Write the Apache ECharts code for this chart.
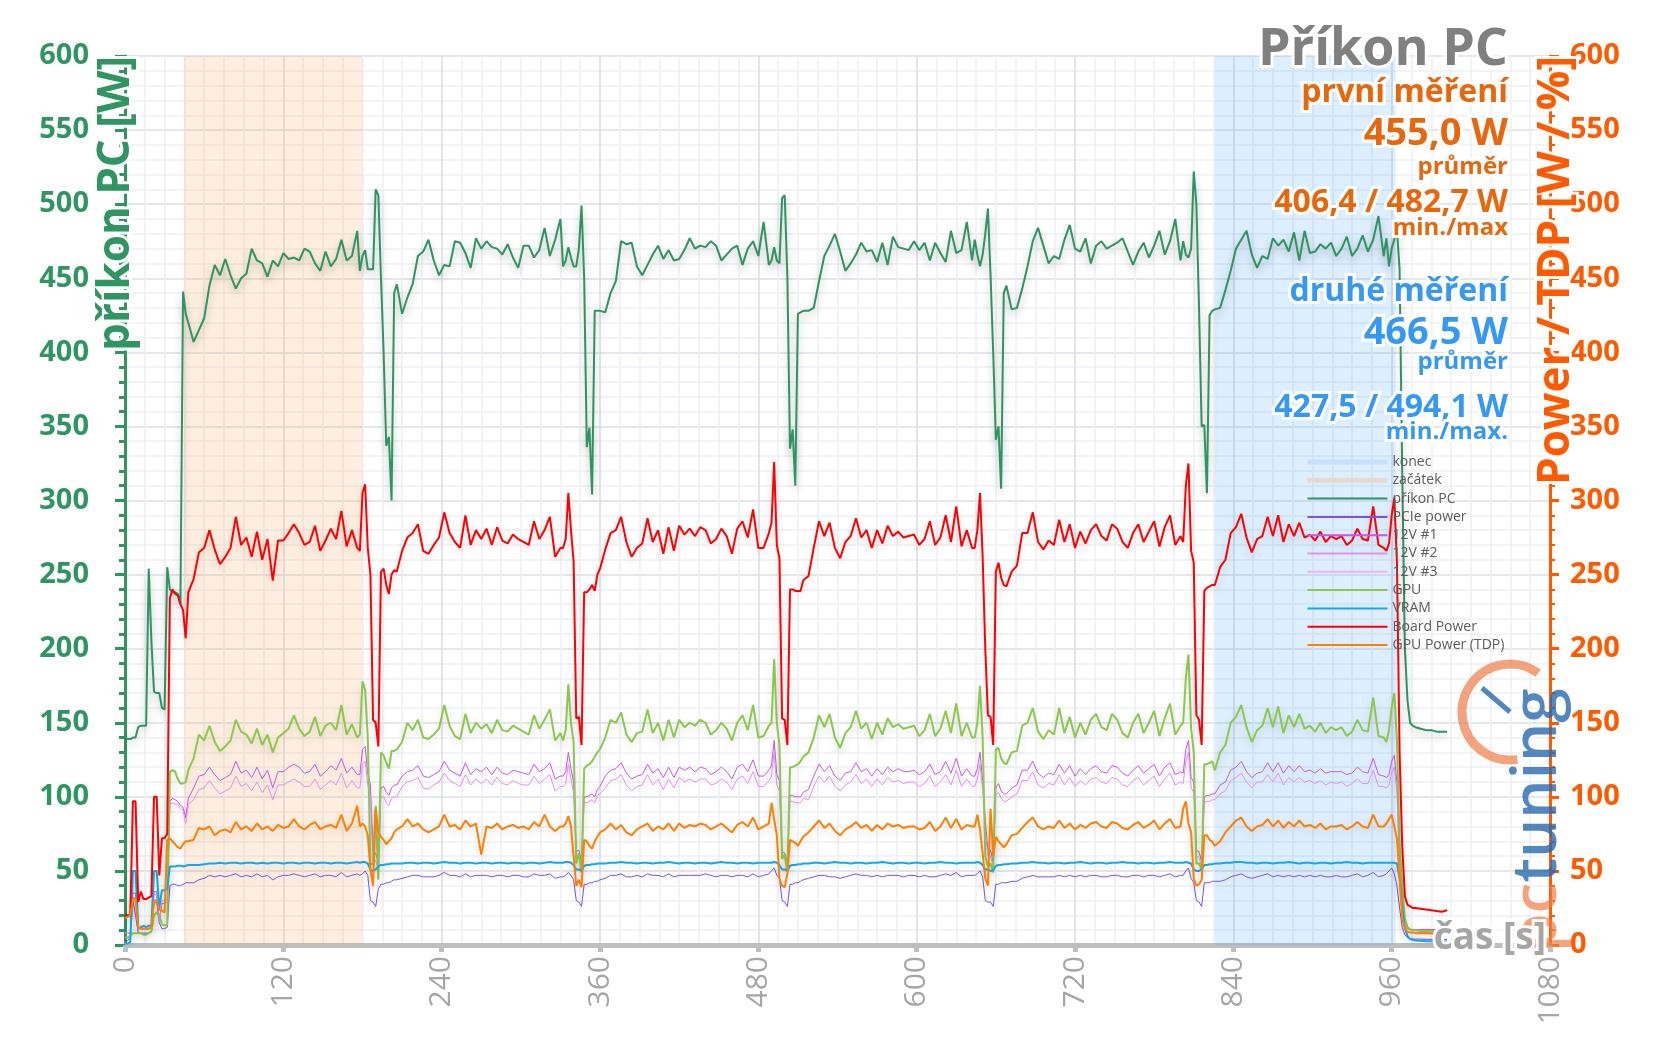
<!DOCTYPE html>
<html><head><meta charset="utf-8">
<script src="https://cdn.jsdelivr.net/npm/echarts@6/dist/echarts.min.js"></script>
<style>html,body{margin:0;padding:0;background:#fff}#c{width:1657px;height:1044px}</style>
</head><body><div id="c"></div>
<script>
// time base [s]
const T = [
0,2,4,6,8,10,12,14,16,18,20,22,24,26,28,30,32,34,36,38,40,42,44,46,48,
52,56,60,64,68,72,76,80,84,88,92,96,100,104,108,112,116,120,124,128,132,136,140,144,148,152,156,160,164,168,172,176,
178,180,182,184,186,188,190,192,194,196,198,200,202,204,206,
210,214,218,222,226,230,234,238,242,246,250,254,258,262,266,270,274,278,282,286,290,294,298,302,306,310,314,318,322,326,330,
332,334,336,338,340,342,344,346,348,350,352,354,356,358,360,
364,368,372,376,380,384,388,392,396,400,404,408,412,416,420,424,428,432,436,440,444,448,452,456,460,464,468,472,476,480,484,488,
490,492,494,496,498,500,502,504,506,508,510,512,514,
518,522,526,530,534,538,542,546,550,554,558,562,566,570,574,578,582,586,590,594,598,602,606,610,614,618,622,626,630,634,638,642,
644,646,648,650,652,654,656,658,660,662,664,666,668,
672,676,680,684,688,692,696,700,704,708,712,716,720,724,728,732,736,740,744,748,752,756,760,764,768,772,776,780,784,788,792,796,800,
802,804,806,808,810,812,814,816,818,820,822,824,826,
830,834,838,842,846,850,854,858,862,866,870,874,878,882,886,890,894,898,902,906,910,914,918,922,926,930,934,938,942,946,950,954,
956,958,960,962,964,966,968,970,972,974,976,978,
982,986,990,994,998,1002];

const PRIKON_PC = [
140,139,139,140,140,147,148,148,148,254,205,171,170,170,160,159,255,240,238,238,237,230,441,426,420,
407,415,423,445,459,452,463,452,443,450,453,470,462,460,451,462,458,467,463,464,462,470,468,460,455,468,458,463,476,462,465,482,
455,465,469,456,456,456,510,506,450,400,337,343,300,440,446,
426,437,446,465,468,476,462,452,459,458,475,474,467,457,477,470,475,471,470,466,473,464,457,472,472,464,469,484,465,476,490,
458,462,471,464,458,458,470,499,450,336,349,304,428,428,428,
427,440,448,475,473,474,458,452,459,466,472,463,469,462,463,469,477,470,472,471,475,472,462,466,470,472,459,470,475,465,488,459,
462,471,462,460,504,506,451,335,348,310,426,427,428,
428,430,448,465,472,480,468,455,460,466,474,468,469,461,474,459,478,471,470,469,475,469,474,462,474,467,461,482,467,469,488,462,
476,466,458,466,480,497,452,400,341,350,308,440,445,
429,430,443,458,475,484,472,460,465,463,476,486,470,468,477,460,472,475,470,472,474,477,468,459,468,474,464,472,482,466,475,490,462,
475,466,464,470,522,500,430,350,351,305,425,428,429,
430,442,455,470,476,482,466,457,465,463,477,472,476,468,481,462,482,467,468,473,470,474,465,470,478,465,470,479,468,476,492,465,
477,458,470,476,483,456,320,200,165,150,148,147,
146,145,145,144,144,144];

const PCIE_POWER = [
3,3,5,30,20,8,8,8,8,8,9,28,29,15,11,11,12,40,41,41,40,40,41,42,42,
42,44,45,47,46,47,46,47,48,46,47,46,48,46,47,44,46,47,47,48,47,46,47,48,46,47,47,46,49,46,47,48,
47,48,50,47,30,29,26,38,41,41,42,42,43,44,44,
45,46,47,47,46,46,46,47,49,47,47,46,48,46,47,47,47,46,47,47,46,47,47,46,46,48,47,47,48,45,46,
46,47,49,47,44,30,29,26,41,41,42,42,43,43,44,
45,47,47,48,46,46,47,46,48,47,47,46,48,46,47,47,47,47,47,48,47,46,47,47,46,47,47,46,48,46,47,48,
50,52,47,45,30,29,26,41,41,42,42,43,44,
45,46,47,47,46,46,45,46,47,48,47,47,46,47,46,47,47,47,46,47,47,46,47,46,46,47,48,47,49,46,47,47,
47,48,50,46,30,29,29,26,41,41,42,42,42,
43,43,45,46,47,46,46,46,46,47,46,47,46,47,46,47,47,46,46,47,47,46,46,47,47,46,47,47,46,47,48,46,47,
47,50,52,45,42,30,29,26,42,42,42,43,43,
43,44,46,47,48,46,45,46,47,48,46,47,46,47,46,47,46,47,46,47,46,46,47,46,46,47,48,46,47,49,46,47,
48,50,52,48,40,25,12,7,5,4.5,4,4,
4,3.8,3.8,3.7,3.7,3.7];

const V12_1 = [
8,8,8,35,35,10,13,11,11,11,12,36,36,16,28,28,29,97,99,98,97,94,93,86,99,
106,114,115,120,115,111,113,115,124,116,118,113,120,112,118,106,117,117,120,122,120,116,117,122,114,117,121,118,126,116,120,115,
115,132,134,116,108,63,62,55,106,107,103,101,106,108,108,
114,117,118,121,114,113,115,117,124,118,116,114,123,115,119,117,120,115,120,116,115,118,117,116,115,122,117,119,123,112,114,
114,117,130,119,110,63,64,56,100,100,101,102,100,105,107,
114,118,119,123,116,112,114,115,122,116,119,113,120,113,120,118,120,117,120,119,115,117,120,117,112,120,122,117,125,114,114,118,
121,138,115,111,63,62,56,101,101,100,100,100,103,
105,114,122,117,121,114,111,116,117,123,117,119,114,119,115,120,117,119,117,117,118,115,117,122,115,117,124,116,126,114,119,114,
114,119,130,111,84,64,64,56,106,109,104,102,102,
106,108,118,118,124,116,113,116,115,122,116,121,114,119,115,119,121,117,116,121,120,116,114,118,121,116,119,122,114,120,123,115,117,
116,132,138,113,110,64,63,56,100,101,101,102,102,
108,110,118,120,124,117,113,116,117,123,117,123,116,121,117,121,117,118,116,119,116,117,117,117,115,116,120,117,116,126,115,114,
113,115,124,128,110,52,26,12,11,10.5,10.5,10.5,
10.5,10.5,10.5,10.5,10.5,10.5];

const V12_2 = [
8,8,8,32,32,10,12,11,11,11,11,34,34,15,30,30,31,95,96,95,95,92,91,82,95,
98,105,106,111,106,102,104,106,114,107,109,104,110,103,108,98,108,108,110,112,110,107,107,112,105,108,111,108,116,106,111,106,
106,122,124,108,100,58,57,51,100,100,96,94,99,100,100,
107,110,111,113,106,105,108,110,116,111,109,107,115,108,112,109,112,108,113,109,108,111,109,108,108,114,109,112,115,104,107,
107,109,122,112,103,59,60,53,96,96,97,98,96,101,102,
106,111,112,115,108,104,107,108,115,108,112,105,112,106,113,110,112,110,112,112,108,109,112,110,105,112,114,109,117,107,107,111,
114,130,108,104,59,59,52,97,97,96,96,96,99,
98,107,114,110,114,107,104,108,110,115,109,112,107,112,108,113,110,111,109,110,110,107,109,114,107,110,115,108,118,107,112,107,
107,112,122,105,78,60,60,53,101,103,99,97,97,
100,102,111,111,117,108,106,109,108,115,108,113,107,111,108,112,113,110,109,113,112,108,107,111,113,108,111,114,107,112,116,108,110,
109,124,130,106,103,60,59,53,96,97,97,98,98,
102,104,111,113,116,110,106,110,110,115,110,116,108,113,110,113,110,111,109,111,108,110,109,110,107,109,112,109,109,118,107,107,
106,108,116,120,103,48,24,10,9,8.5,8.5,8.5,
8.5,8.5,8.5,8.5,8.5,8.5];

// 12V #3 stays near zero for the whole run
const T_12V3 = [0, 1002];
const V12_3 = [0.4, 0.4];

const GPU = [
5,5,6,8,8,8,8,7,7,8,9,20,22,20,14,13,14,117,118,117,112,109,109,110,118,
126,142,138,148,137,131,134,138,152,144,142,136,146,135,142,130,140,143,146,155,146,141,144,154,141,148,150,145,162,142,149,140,
142,178,172,140,54,55,94,44,130,128,123,119,131,131,132,
137,150,145,152,140,139,142,146,162,148,141,139,156,143,150,146,149,143,152,145,144,148,146,144,142,155,146,152,159,138,143,
138,145,176,150,137,55,62,49,119,121,122,124,127,130,132,
140,152,150,157,142,137,143,144,159,143,150,138,152,140,152,147,150,148,152,150,142,145,150,146,138,150,155,145,162,140,141,148,
150,193,150,135,58,61,49,120,120,121,122,124,127,
130,140,155,147,156,140,133,143,147,158,146,150,139,150,142,153,147,149,146,147,148,141,145,156,141,146,158,143,163,141,150,140,
140,150,175,140,60,53,55,49,132,133,126,123,122,
130,131,148,150,160,144,139,145,142,160,143,154,140,150,142,152,156,147,145,156,152,143,140,150,156,143,150,158,141,153,163,142,148,
150,180,196,146,130,55,55,51,122,122,123,124,118,
130,135,150,154,162,147,137,145,148,160,147,161,143,155,147,156,146,148,144,150,143,147,145,147,141,144,152,145,144,167,141,140,
137,145,160,170,138,70,38,18,12,10.5,10,10,
9.5,9.5,9.5,9.5,9.3,9.3];

const VRAM = [
1,1,2,50,50,12,11,13,12,13,13,50,50,25,37,37,38,53,53,53,53.5,53.5,53,53.5,54,
54,54,54.5,55,55,55.5,55,55.5,55.5,55,55.5,55.5,55,55.5,55,55.5,55.5,55,55.5,55.5,55,55.5,55.5,55,55.5,55.5,55,55.5,55.5,55,55.5,56,
55.5,56,56,55,51,50,51,53,54,54,54.5,54.5,55,55,55,
55,55.5,55.5,55,55.5,55.5,55,55.5,56,55.5,55.5,55,55.5,55.5,55,55.5,55.5,55,55.5,55.5,55,55.5,55.5,55,55.5,55.5,55,55.5,56,55.5,55.5,
55.5,56,56,55.5,54,51,51,50,53.5,54,54,54.5,54.5,55,55,
55,55.5,55.5,56,55.5,55.5,55,55.5,55.5,55,55.5,55.5,56,55.5,55,55.5,55.5,55,55.5,55.5,55,55.5,56,55.5,55.5,55,55.5,55.5,55,55.5,55.5,55.5,
55.5,56,55.5,54,51,51,50,53.5,54,54,54.5,54.5,55,
55,55.5,55.5,55,55.5,56,55.5,55.5,55,55.5,55.5,55,55.5,55.5,56,55.5,55,55.5,55.5,55,55.5,55.5,55,55.5,55.5,56,55.5,55.5,55,55.5,55.5,55.5,
55.5,56,55.5,54,51,51,50,50.5,53.5,54,54,54.5,54.5,
55,55,55.5,55.5,56,55.5,55.5,55,55.5,55.5,55,55.5,55.5,56,55.5,55,55.5,55.5,55,55.5,55.5,56,55.5,55.5,55,55.5,55.5,55,55.5,55.5,56,55.5,55.5,
55.5,56,55.5,55,51,50,50,51,54,54,54.5,54.5,55,
55,55.5,55.5,56,56,55.5,55.5,55,55.5,55.5,55,55.5,55.5,56,55.5,55,55.5,55.5,55,55.5,55.5,55,55.5,55.5,56,55.5,55.5,55,55.5,55.5,55.5,55.5,
55.5,55.5,55.5,55.5,55,45,25,12,6,4,3.5,3,
2.8,2.6,2.5,2.4,2.3,2.3];

const BOARD_POWER = [
20,20,20,97,97,29,36,31,31,32,33,100,100,47,72,72,75,234,240,237,236,230,226,207,238,
247,265,268,280,267,257,262,268,289,270,275,262,279,260,274,246,273,273,278,284,278,270,272,283,266,273,281,274,293,269,280,268,
266,305,311,268,250,152,150,134,252,254,243,237,250,253,252,
266,275,278,284,266,264,270,275,292,278,272,268,290,270,280,274,281,270,282,273,271,277,274,272,270,286,274,280,289,262,268,
268,274,305,280,259,153,154,135,238,238,240,243,239,250,254,
267,278,280,289,272,262,268,271,288,272,280,264,282,266,283,277,281,276,282,280,271,274,281,276,264,281,286,275,294,268,268,278,
285,326,270,261,153,152,135,240,240,239,239,239,246,
249,268,286,276,285,268,261,272,276,288,275,280,268,280,271,283,276,279,275,276,277,270,274,286,270,275,290,272,296,269,280,268,
268,280,305,262,200,155,154,135,252,258,248,243,242,
252,256,278,278,292,272,267,273,270,287,272,284,268,279,271,280,284,276,273,284,281,272,268,278,284,272,279,286,269,282,290,270,276,
272,310,325,266,258,155,152,135,239,241,242,243,243,
255,260,278,282,291,275,265,274,276,289,276,290,272,284,276,285,275,277,273,279,272,276,274,276,270,273,281,274,273,296,270,268,
266,271,290,302,258,130,67,33,27,26,25,25,
24.5,24,23.5,23,22.5,23.5];

const GPU_TDP = [
18,19,20,31,31,12,11,11,11,11,12,30,30,24,23,22,71,72,70,68,66,65,68,70,70,
71,79,78,80,74,77,78,76,83,78,80,77,82,78,80,77,81,79,80,85,80,78,81,83,78,80,81,79,88,77,82,94,
80,82,80,74,51,40,92,76,73,71,68,70,72,76,78,
80,85,80,82,78,76,78,80,88,80,81,78,84,80,82,61,80,79,82,78,80,81,79,80,78,83,80,88,80,77,80,
80,82,87,80,60,40,44,39,71,70,67,65,70,73,76,
78,82,78,81,76,74,78,80,82,77,80,78,82,77,82,79,81,80,82,81,78,80,82,79,76,81,83,80,86,78,80,82,
96,85,74,45,40,39,48,71,70,69,67,70,73,
76,80,84,79,82,77,74,78,80,83,79,81,77,81,78,82,80,81,79,80,80,78,79,83,77,80,86,79,85,78,81,80,
80,88,78,62,45,40,92,60,73,70,68,66,68,
74,75,79,83,86,80,78,80,79,84,79,82,78,81,79,82,83,80,79,83,82,79,78,81,83,79,81,84,78,82,85,79,80,
92,97,82,76,45,40,41,44,74,74,71,70,67,
70,76,80,84,86,80,77,80,81,85,80,84,79,83,80,84,80,81,79,82,78,80,80,81,78,80,83,80,79,88,80,80,
82,85,88,80,72,45,18,11,9,8.5,8.5,8,
8,8,7.8,7.8,7.8,7.8];

// shaded measurement windows [start, end] in seconds, spanning the full axis height
const ZACATEK_SPAN = [44.5, 180];
const KONEC_SPAN = [826, 963];
const SPAN_TOP = 600;

const X_TICKS = {min: 0, max: 1080, step: 120};
const Y_TICKS = {min: 0, max: 600, step: 50};

const TITLE = 'Příkon PC';
const FIRST = {label: 'první měření', avg: '455,0 W', avgLabel: 'průměr', minmax: '406,4 / 482,7 W', mmLabel: 'min./max'};
const SECOND = {label: 'druhé měření', avg: '466,5 W', avgLabel: 'průměr', minmax: '427,5 / 494,1 W', mmLabel: 'min./max.'};

// ---------------------------------------------------------------
const F = 'Open Sans';
const GREEN = '#2f9563', ORANGE_AX = '#ff5a00', ORANGE_TXT = '#e8670c', BLUE_TXT = '#3598f5', GRAY = '#a6a6a6';

const chart = echarts.init(document.getElementById('c'), null, {renderer: 'canvas', width: 1657, height: 1044});

const problems = [];
function pts(tArr, vArr, name) {
  if (tArr.length !== vArr.length) problems.push(name + ' ' + vArr.length + '/' + tArr.length);
  return tArr.map((t, i) => [t, vArr[i]]);
}

// name, time base, values, colour, width, y axis, shadow opacity, z
const lineDefs = [
  ['příkon PC', T, PRIKON_PC, '#2e9461', 2, 0, 0.28, 3],
  ['PCIe power', T, PCIE_POWER, '#7b52e6', 1, 1, 0.12, 3],
  ['12V #1', T, V12_1, '#c957e6', 1, 1, 0.12, 3],
  ['12V #2', T, V12_2, '#e690f2', 1, 1, 0.12, 3],
  ['12V #3', T_12V3, V12_3, '#edb4f7', 1, 1, 0, -1],
  ['GPU', T, GPU, '#8cc84b', 2, 1, 0.15, 3],
  ['VRAM', T, VRAM, '#12a9ee', 2, 1, 0.12, 3],
  ['Board Power', T, BOARD_POWER, '#ff0000', 2, 1, 0.15, 3],
  ['GPU Power (TDP)', T, GPU_TDP, '#ff8000', 2, 1, 0.15, 3]
];

const series = [
  {name: 'konec', type: 'line', yAxisIndex: 1, symbol: 'none', silent: true, z: 1,
   data: [[KONEC_SPAN[0], SPAN_TOP], [KONEC_SPAN[1], SPAN_TOP]],
   lineStyle: {color: '#c8e0fa', width: 1, opacity: 0},
   itemStyle: {color: '#c8e0fa'},
   areaStyle: {color: 'rgba(85,168,250,0.2)', opacity: 1}},
  {name: 'začátek', type: 'line', yAxisIndex: 1, symbol: 'none', silent: true, z: 1,
   data: [[ZACATEK_SPAN[0], SPAN_TOP], [ZACATEK_SPAN[1], SPAN_TOP]],
   lineStyle: {color: '#e6dad0', width: 1, opacity: 0},
   itemStyle: {color: '#e6dad0'},
   areaStyle: {color: 'rgba(245,170,100,0.2)', opacity: 1}}
];
lineDefs.forEach(([name, tArr, vArr, color, w, yi, sh, z]) => {
  series.push({
    name, type: 'line', yAxisIndex: yi, symbol: 'none', showSymbol: false, z,
    data: pts(tArr, vArr, name),
    itemStyle: {color},
    lineStyle: {color, width: w, shadowColor: 'rgba(0,0,0,' + sh + ')', shadowBlur: sh ? 8 : 0, shadowOffsetY: sh ? 4 : 0}
  });
});

function glowText(x, y, text, font, fill, align, extra) {
  return Object.assign({
    type: 'text', x, y, z: 100, silent: true,
    style: {text, font, fill, align: align || 'right', verticalAlign: 'middle',
            stroke: 'rgba(255,255,255,0.95)', lineWidth: 6,
            shadowColor: 'rgba(255,255,255,1)', shadowBlur: 6}
  }, extra || {});
}

const RX = 1508;
const graphics = [
  glowText(RX, 50, TITLE, 'bold 52px ' + F, '#808080'),
  glowText(RX, 93, FIRST.label, 'bold 32px ' + F, ORANGE_TXT),
  glowText(RX, 134, FIRST.avg, 'bold 38px ' + F, ORANGE_TXT),
  glowText(RX, 167, FIRST.avgLabel, 'bold 24px ' + F, ORANGE_TXT),
  glowText(RX, 203, FIRST.minmax, 'bold 32px ' + F, ORANGE_TXT),
  glowText(RX, 228, FIRST.mmLabel, 'bold 24px ' + F, ORANGE_TXT),
  glowText(RX, 292, SECOND.label, 'bold 32px ' + F, BLUE_TXT),
  glowText(RX, 333, SECOND.avg, 'bold 38px ' + F, BLUE_TXT),
  glowText(RX, 362, SECOND.avgLabel, 'bold 24px ' + F, BLUE_TXT),
  glowText(RX, 408, SECOND.minmax, 'bold 32px ' + F, BLUE_TXT),
  glowText(RX, 432, SECOND.mmLabel, 'bold 24px ' + F, BLUE_TXT),
  // axis names
  glowText(116, 56, 'příkon PC [W]', 'bold 44px ' + F, GREEN, 'right', {rotation: Math.PI / 2}),
  glowText(1556, 56, 'Power / TDP [W / %]', 'bold 44px ' + F, ORANGE_AX, 'right', {rotation: Math.PI / 2}),
  glowText(1546, 938, 'čas [s]', 'bold 37px ' + F, GRAY, 'right'),
  // watermark logo
  {type: 'arc', z: 90, silent: true, shape: {cx: 1510, cy: 712, r: 48, startAngle: Math.PI * 0.45, endAngle: Math.PI * 1.7},
   style: {stroke: 'rgba(240,125,70,0.7)', lineWidth: 9, fill: null}},
  {type: 'line', z: 90, silent: true, shape: {x1: 1510, y1: 712, x2: 1482, y2: 688},
   style: {stroke: 'rgba(40,105,175,0.8)', lineWidth: 5}},
  {type: 'text', x: 1538, y: 952, z: 91, silent: true, rotation: Math.PI / 2,
   style: {text: '{a|pc}{b|tuning}', align: 'left', verticalAlign: 'middle', font: '62px ' + F,
           rich: {a: {fill: 'rgba(240,125,70,0.7)', font: '600 62px ' + F},
                  b: {fill: 'rgba(40,105,175,0.8)', font: '600 62px ' + F}}}}
];
if (problems.length) graphics.push({type: 'text', x: 300, y: 500, z: 200, style: {text: 'LEN: ' + problems.join(', '), font: 'bold 20px sans-serif', fill: '#000'}});

const legendData = [
  {name: 'konec', lineStyle: {width: 5, color: '#c8e0fa', opacity: 1}},
  {name: 'začátek', lineStyle: {width: 5, color: '#e6dad0', opacity: 1}},
  'příkon PC', 'PCIe power', '12V #1', '12V #2', '12V #3', 'GPU', 'VRAM', 'Board Power', 'GPU Power (TDP)'
];

chart.setOption({
  animation: false,
  backgroundColor: '#ffffff',
  grid: {left: 125, right: 107, top: 56, bottom: 99, containLabel: false, outerBoundsMode: 'none'},
  legend: {
    orient: 'vertical', left: 1300, top: 450, itemWidth: 80, itemHeight: 14, itemGap: 4.3,
    selectedMode: false, data: legendData,
    itemStyle: {opacity: 0},
    textStyle: {color: '#5a5a5a', fontSize: 14, fontFamily: F, lineHeight: 14}
  },
  xAxis: {
    type: 'value', min: X_TICKS.min, max: X_TICKS.max, interval: X_TICKS.step,
    axisLine: {show: true, onZero: false, lineStyle: {color: '#bfbfbf', width: 5}},
    axisTick: {show: true, length: 7, lineStyle: {color: '#bfbfbf', width: 5}},
    minorTick: {show: false, splitNumber: 8},
    axisLabel: {rotate: 90, color: GRAY, fontSize: 30, fontFamily: F, margin: 11, formatter: v => String(v)},
    splitLine: {show: true, lineStyle: {color: '#dcdfe6', width: 1.6}},
    minorSplitLine: {show: true, lineStyle: {color: '#eef0f4', width: 1.6}}
  },
  yAxis: [
    {type: 'value', position: 'left', min: Y_TICKS.min, max: Y_TICKS.max, interval: Y_TICKS.step,
     axisLine: {show: true, lineStyle: {color: GREEN, width: 3}},
     axisTick: {show: true, length: 10, lineStyle: {color: GREEN, width: 3}},
     minorTick: {show: true, splitNumber: 5, length: 6, lineStyle: {color: GREEN, width: 3}},
     axisLabel: {color: GREEN, fontSize: 29, fontWeight: 'bold', fontFamily: F, margin: 36},
     splitLine: {show: true, lineStyle: {color: '#dcdfe6', width: 1.6}},
     minorSplitLine: {show: true, lineStyle: {color: '#eef0f4', width: 1.6}}},
    {type: 'value', position: 'right', min: Y_TICKS.min, max: Y_TICKS.max, interval: Y_TICKS.step,
     axisLine: {show: true, lineStyle: {color: ORANGE_AX, width: 3}},
     axisTick: {show: true, length: 9, lineStyle: {color: ORANGE_AX, width: 3}},
     minorTick: {show: true, splitNumber: 5, length: 5, lineStyle: {color: ORANGE_AX, width: 2}},
     axisLabel: {color: ORANGE_AX, fontSize: 29, fontWeight: 'bold', fontFamily: F, margin: 20},
     splitLine: {show: false}}
  ],
  graphic: graphics,
  series
});
</script>
</body></html>
